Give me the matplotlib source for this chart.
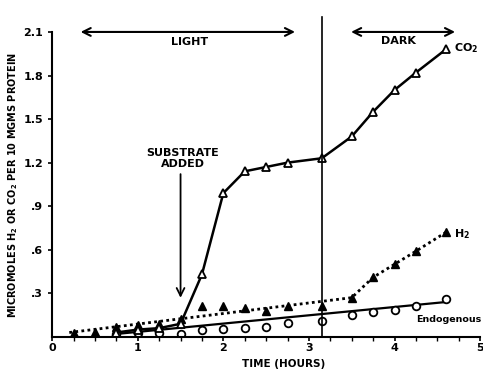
import matplotlib
matplotlib.use("Agg")
import matplotlib.pyplot as plt
import numpy as np

# CO2 (open triangles)
co2_t = [0.75, 1.0, 1.25, 1.5, 1.75, 2.0, 2.25, 2.5, 2.75, 3.15, 3.5, 3.75, 4.0, 4.25, 4.6]
co2_v = [0.03, 0.05, 0.06, 0.09, 0.43, 0.99, 1.14, 1.17, 1.20, 1.23, 1.38, 1.55, 1.70, 1.82, 1.98]

# H2 (filled triangles) and the dotted line drawn through them
h2_t = [0.25, 0.5, 0.75, 1.0, 1.25, 1.5, 1.75, 2.0, 2.25, 2.5, 2.75, 3.15, 3.5, 3.75, 4.0, 4.25, 4.6]
h2_v = [0.03, 0.035, 0.07, 0.08, 0.09, 0.12, 0.21, 0.21, 0.20, 0.18, 0.21, 0.21, 0.27, 0.41, 0.50, 0.59, 0.72]
h2_line_t = [0.2, 3.5, 3.75, 4.0, 4.25, 4.6]
h2_line_v = [0.03, 0.27, 0.41, 0.50, 0.59, 0.72]

# endogenous (open circles) with straight line
endo_t = [0.75, 1.0, 1.25, 1.5, 1.75, 2.0, 2.25, 2.5, 2.75, 3.15, 3.5, 3.75, 4.0, 4.25, 4.6]
endo_v = [0.02, 0.03, 0.03, 0.02, 0.05, 0.055, 0.06, 0.07, 0.095, 0.11, 0.15, 0.17, 0.185, 0.21, 0.26]
endo_line_t = [0.75, 4.6]
endo_line_v = [0.02, 0.24]

yticks = [0.3, 0.6, 0.9, 1.2, 1.5, 1.8, 2.1]
ytick_labels = [".3", ".6", ".9", "1.2", "1.5", "1.8", "2.1"]
xticks = [0, 1, 2, 3, 4, 5]

switch_t = 3.15

plt.rcParams['font.family'] = ['DejaVu Sans']
plt.rcParams['font.weight'] = 'bold'

fig = plt.figure(figsize=(4.83, 3.71), dpi=100)
ax = fig.add_axes([0.108, 0.092, 0.886, 0.908])

ax.plot(h2_line_t, h2_line_v, color='black', lw=2, ls=(0, (1, 1.2)))
ax.plot(h2_t, h2_v, ls='none', marker='^', ms=6, color='black')
ax.plot(endo_line_t, endo_line_v, color='black', lw=1.6)
ax.plot(endo_t, endo_v, ls='none', marker='o', ms=5.5, mfc='white', mec='black', mew=1.3)
ax.plot(co2_t, co2_v, color='black', lw=1.8, marker='^', ms=6, mfc='white', mec='black', mew=1.3)

ax.plot([switch_t, switch_t], [0, 2.2], color='black', lw=1.2)

# light / dark arrows
ax.annotate('', xy=(0.3, 2.1), xytext=(2.87, 2.1),
            arrowprops=dict(arrowstyle='<->', lw=1.5, color='black', mutation_scale=14))
ax.annotate('', xy=(3.46, 2.1), xytext=(4.74, 2.1),
            arrowprops=dict(arrowstyle='<->', lw=1.5, color='black', mutation_scale=14))
ax.text(1.6, 2.03, 'LIGHT', ha='center', va='center', fontsize=8, fontweight='bold')
ax.text(4.05, 2.04, 'DARK', ha='center', va='center', fontsize=8, fontweight='bold')

ax.text(1.53, 1.23, 'SUBSTRATE\nADDED', ha='center', va='center', fontsize=8,
        fontweight='bold', linespacing=1.1)
ax.annotate('', xy=(1.5, 0.25), xytext=(1.5, 1.14),
            arrowprops=dict(arrowstyle='->', lw=1.3, color='black', mutation_scale=14))

ax.text(4.7, 1.99, 'CO$_2$', ha='left', va='center', fontsize=8, fontweight='bold')
ax.text(4.7, 0.71, 'H$_2$', ha='left', va='center', fontsize=8, fontweight='bold')
ax.text(4.25, 0.12, 'Endogenous', ha='left', va='center', fontsize=6.8, fontweight='bold')

ax.set_xlim(0, 5)
ax.set_ylim(0, 2.32)
ax.spines['top'].set_visible(False)
ax.spines['right'].set_visible(False)
ax.spines['left'].set_bounds(0, 2.1)
ax.spines['left'].set_linewidth(1.5)
ax.spines['bottom'].set_linewidth(1.5)

ax.set_xticks(xticks)
ax.set_xticks(np.arange(0, 5.01, 0.25), minor=True)
ax.set_yticks(yticks)
ax.set_yticklabels(ytick_labels)
ax.tick_params(axis='both', labelsize=8, width=1.2, length=3)
ax.tick_params(axis='x', pad=1.5)
ax.tick_params(axis='x', which='minor', length=3, width=1)

ax.set_xlabel('TIME (HOURS)', fontsize=7.5, fontweight='bold', labelpad=2)
ax.xaxis.set_label_coords(0.54, -0.065)
ax.set_ylabel('MICROMOLES H$_2$ OR CO$_2$ PER 10 MGMS PROTEIN', fontsize=7,
              fontweight='bold', labelpad=4)
ax.yaxis.set_label_coords(-0.075, 0.45)

fig.savefig('out.png', dpi=100)
